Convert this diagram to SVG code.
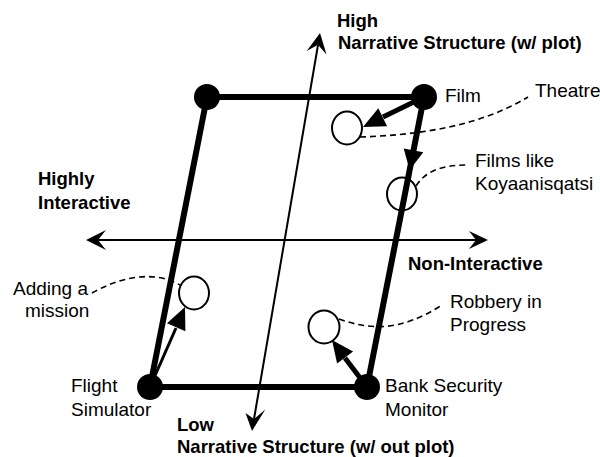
<svg xmlns="http://www.w3.org/2000/svg" width="600" height="457" viewBox="0 0 600 457">
<style>
  .lbl { font-family: "Liberation Sans", Arial, sans-serif; font-size: 19px; fill: #000; }
  .axl { font-family: "Liberation Sans", Arial, sans-serif; font-size: 18.5px; font-weight: bold; fill: #000; }
  .node { fill: #000; }
  .item { fill: #fff; stroke: #000; stroke-width: 2; }
  .edge { stroke: #000; stroke-width: 6; fill: none; stroke-linecap: round; }
  .arr { stroke: #000; stroke-width: 5; fill: none; }
  .arrthin { stroke: #000; stroke-width: 3; fill: none; }
  .axis { stroke: #000; stroke-width: 2; fill: none; }
  .lead { stroke: #000; stroke-width: 1.6; fill: none; stroke-dasharray: 6 4; }
  .head { fill: #000; stroke: none; }
</style>
<rect width="600" height="457" fill="#fff"/>

<g id="node-topleft"><circle class="node" cx="207" cy="97" r="13"/></g>
<g id="node-film"><circle class="node" cx="424" cy="97" r="13"/><text class="lbl" x="445" y="102">Film</text></g>
<g id="node-flight"><circle class="node" cx="150" cy="387" r="13"/><text class="lbl" x="71" y="392">Flight</text><text class="lbl" x="71" y="416">Simulator</text></g>
<g id="node-bank"><circle class="node" cx="367" cy="387" r="13"/><text class="lbl" x="385" y="392">Bank Security</text><text class="lbl" x="385" y="416">Monitor</text></g>

<g id="node-theatre"><ellipse class="item" cx="347" cy="128" rx="15" ry="16.5"/><text class="lbl" x="535" y="97">Theatre</text></g>
<g id="node-koyaanisqatsi"><ellipse class="item" cx="402" cy="194" rx="15" ry="16.5"/><text class="lbl" x="475" y="167">Films like</text><text class="lbl" x="475" y="190">Koyaanisqatsi</text></g>
<g id="node-mission"><ellipse class="item" cx="194" cy="293" rx="15" ry="16.5"/><text class="lbl" x="13" y="295">Adding a</text><text class="lbl" x="25" y="317">mission</text></g>
<g id="node-robbery"><ellipse class="item" cx="324" cy="327" rx="15.5" ry="16.5"/><text class="lbl" x="450" y="308">Robbery in</text><text class="lbl" x="450" y="331">Progress</text></g>

<g id="axis-labels">
  <text class="axl" x="337" y="27">High</text>
  <text class="axl" x="338" y="49">Narrative Structure (w/ plot)</text>
  <text class="axl" x="38" y="185">Highly</text>
  <text class="axl" x="38" y="209">Interactive</text>
  <text class="axl" x="408" y="270">Non-Interactive</text>
  <text class="axl" x="177" y="431">Low</text>
  <text class="axl" x="177" y="453">Narrative Structure (w/ out plot)</text>
</g>

<g id="connectors">
  <!-- axes -->
  <line class="axis" x1="98" y1="240" x2="476" y2="240"/>
  <polygon class="head" points="86,240 106,230 98,240 106,250"/>
  <polygon class="head" points="488,240 469,231 476,240 469,249"/>
  <line class="axis" x1="254" y1="419" x2="318" y2="45"/>
  <polygon class="head" points="320,33 326.5,54.4 318,44.8 306.7,51"/>
  <polygon class="head" points="252,431 245.5,413 254,419 265.3,409.6"/>

  <!-- parallelogram edges -->
  <line class="edge" x1="207" y1="97" x2="424" y2="97"/>
  <line class="edge" x1="424" y1="97" x2="367" y2="387"/>
  <line class="edge" x1="367" y1="387" x2="150" y2="387"/>
  <line class="edge" x1="150" y1="387" x2="207" y2="97"/>

  <!-- arrows -->
  <line class="arr" x1="424" y1="97" x2="383" y2="117"/>
  <polygon class="head" points="363,127 387.1,126.3 378.3,108.3"/>
  <polygon class="head" points="409.6,170 423.3,152.3 403.7,148.5"/>
  <line class="arr" x1="367" y1="387" x2="345" y2="358"/>
  <polygon class="head" points="332,340 353.1,351.6 337.1,363.6"/>
  <line class="arrthin" x1="150" y1="387" x2="176" y2="328"/>
  <polygon class="head" points="185,307 185.4,331.2 167,323.2"/>

  <!-- dashed leaders -->
  <path class="lead" d="M360,137 C420,135 480,126 528,97"/>
  <path class="lead" d="M416,186 C425,172 440,165 468,165"/>
  <path class="lead" d="M92,293 C115,280 150,268 180,285"/>
  <path class="lead" d="M339,319 C370,330 400,332 442,305"/>
</g>
</svg>
